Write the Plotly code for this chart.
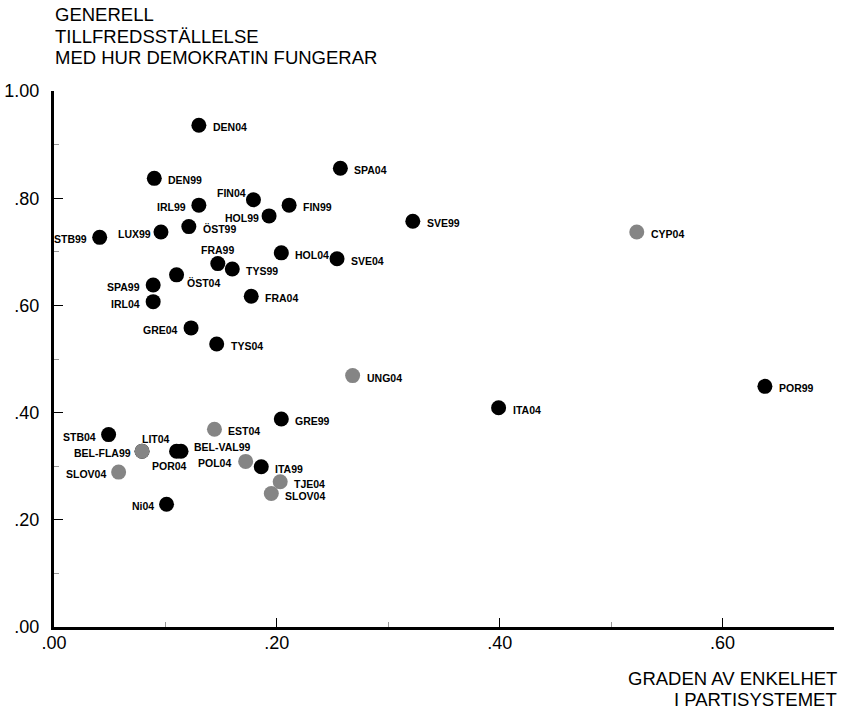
import plotly.graph_objects as go

# ---- data ----
labels = ["DEN04", "DEN99", "SPA04", "FIN04", "IRL99", "FIN99", "HOL99", "SVE99",
          "ÖST99", "LUX99", "STB99", "CYP04", "HOL04", "SVE04", "FRA99", "TYS99",
          "ÖST04", "SPA99", "FRA04", "IRL04", "GRE04", "TYS04", "UNG04", "POR99",
          "ITA04", "GRE99", "EST04", "STB04", "BEL-FLA99", "LIT04", "POR04", "BEL-VAL99",
          "POL04", "ITA99", "TJE04", "SLOV04", "SLOV04", "Ni04"]
enkelhet = [0.130, 0.090, 0.257, 0.179, 0.130, 0.211, 0.193, 0.322,
            0.121, 0.096, 0.041, 0.523, 0.204, 0.254, 0.147, 0.160,
            0.110, 0.089, 0.177, 0.089, 0.123, 0.146, 0.268, 0.638,
            0.399, 0.204, 0.144, 0.049, 0.079, 0.079, 0.110, 0.114,
            0.172, 0.186, 0.203, 0.058, 0.195, 0.101]
tillfreds = [0.936, 0.837, 0.856, 0.797, 0.787, 0.787, 0.767, 0.757,
             0.747, 0.737, 0.727, 0.737, 0.698, 0.687, 0.678, 0.668,
             0.657, 0.638, 0.617, 0.607, 0.558, 0.528, 0.469, 0.449,
             0.409, 0.388, 0.369, 0.359, 0.328, 0.328, 0.328, 0.328,
             0.309, 0.299, 0.271, 0.289, 0.249, 0.229]
# grupp: "old" = established democracies (black), "new" = new democracies (grey)
grupp = ["old", "old", "old", "old", "old", "old", "old", "old",
         "old", "old", "old", "new", "old", "old", "old", "old",
         "old", "old", "old", "old", "old", "old", "new", "old",
         "old", "old", "new", "old", "old", "new", "old", "old",
         "new", "old", "new", "new", "new", "old"]

x_tickvals = [0.0, 0.2, 0.4, 0.6]
x_ticktext = [".00", ".20", ".40", ".60"]
y_tickvals = [0.0, 0.2, 0.4, 0.6, 0.8, 1.0]
y_ticktext = [".00", ".20", ".40", ".60", ".80", "1.00"]

y_title_lines = ["GENERELL", "TILLFREDSSTÄLLELSE", "MED HUR DEMOKRATIN FUNGERAR"]
x_title_lines = ["GRADEN AV ENKELHET", "I PARTISYSTEMET"]

# ---- styling (label placement: xanchor, xshift, yshift) ----
R = ("left", 12, -2)
L = ("right", -11, -2)
placement = {
    3: ("right", -5, 7),      # FIN04
    6: ("right", -8, -2),     # HOL99
    9: ("right", -8, -2),     # LUX99
    14: ("center", 0, 14),    # FRA99
    16: ("left", 8, -8),      # ÖST04
    28: ("right", -9, -2),    # BEL-FLA99
    29: ("center", 14, 12),   # LIT04
    30: ("center", -7, -15),  # POR04
    31: ("left", 11, 4),      # BEL-VAL99
    32: ("right", -13, -2),   # POL04
}
left_idx = {4, 10, 17, 19, 20, 27, 35, 37}

colors = {"old": "#000000", "new": "#858585"}
FONT = "Liberation Sans, Arial, sans-serif"

fig = go.Figure()
fig.add_trace(go.Scatter(
    x=enkelhet, y=tillfreds, mode="markers",
    marker=dict(size=15, color=[colors[g] for g in grupp], line=dict(width=0)),
    hovertext=labels, hoverinfo="text", showlegend=False,
))

annotations = []
for i, (lab, xv, yv) in enumerate(zip(labels, enkelhet, tillfreds)):
    if i in placement:
        xa, xs, ys = placement[i]
    elif i in left_idx:
        xa, xs, ys = L
    else:
        xa, xs, ys = R
    annotations.append(dict(
        x=xv, y=yv, xref="x", yref="y", text="<b>" + lab + "</b>",
        showarrow=False, xanchor=xa, yanchor="middle", xshift=xs, yshift=ys,
        font=dict(family=FONT, size=10.5, color="#000"),
    ))

# title lines (positions in paper units)
for line, ypos in zip(y_title_lines, [1.1427, 1.1022, 1.0616]):
    annotations.append(dict(
        xref="paper", yref="paper", x=0, xshift=-1, y=ypos, xanchor="left", yanchor="middle",
        text=line, showarrow=False,
        font=dict(family=FONT, size=18.5, color="#000"),
    ))
for line, ypos in zip(x_title_lines, [-0.0970, -0.1353]):
    annotations.append(dict(
        xref="paper", yref="paper", x=1.0051, y=ypos, xanchor="right", yanchor="middle",
        text=line, showarrow=False, borderpad=0,
        font=dict(family=FONT, size=18.5, color="#000"),
    ))

axis_font = dict(family=FONT, size=18, color="#000")
fig.update_layout(
    width=842, height=711,
    margin=dict(l=54, r=8, t=91, b=84),
    paper_bgcolor="white", plot_bgcolor="white",
    annotations=annotations,
    xaxis=dict(
        range=[0, 0.70], tickvals=x_tickvals, ticktext=x_ticktext, automargin=False,
        showgrid=False, zeroline=False, showline=True, linecolor="#000", linewidth=3,
        ticks="inside", ticklen=9, tickwidth=1, tickcolor="#000",
        tickfont=axis_font, ticklabelstandoff=-3,
        minor=dict(dtick=0.1, tick0=0, ticks="inside", ticklen=5, tickcolor="#999", tickwidth=1, showgrid=False),
    ),
    yaxis=dict(
        range=[0, 1.0], tickvals=y_tickvals, ticktext=y_ticktext, automargin=False,
        showgrid=False, zeroline=False, showline=True, linecolor="#000", linewidth=3,
        ticks="inside", ticklen=9, tickwidth=1, tickcolor="#000",
        tickfont=axis_font, ticklabelstandoff=8,
        minor=dict(dtick=0.1, tick0=0, ticks="inside", ticklen=5, tickcolor="#999", tickwidth=1, showgrid=False),
    ),
)

fig.write_html("out.html", config={"displayModeBar": False},
               post_script="document.body.style.margin='0';")
